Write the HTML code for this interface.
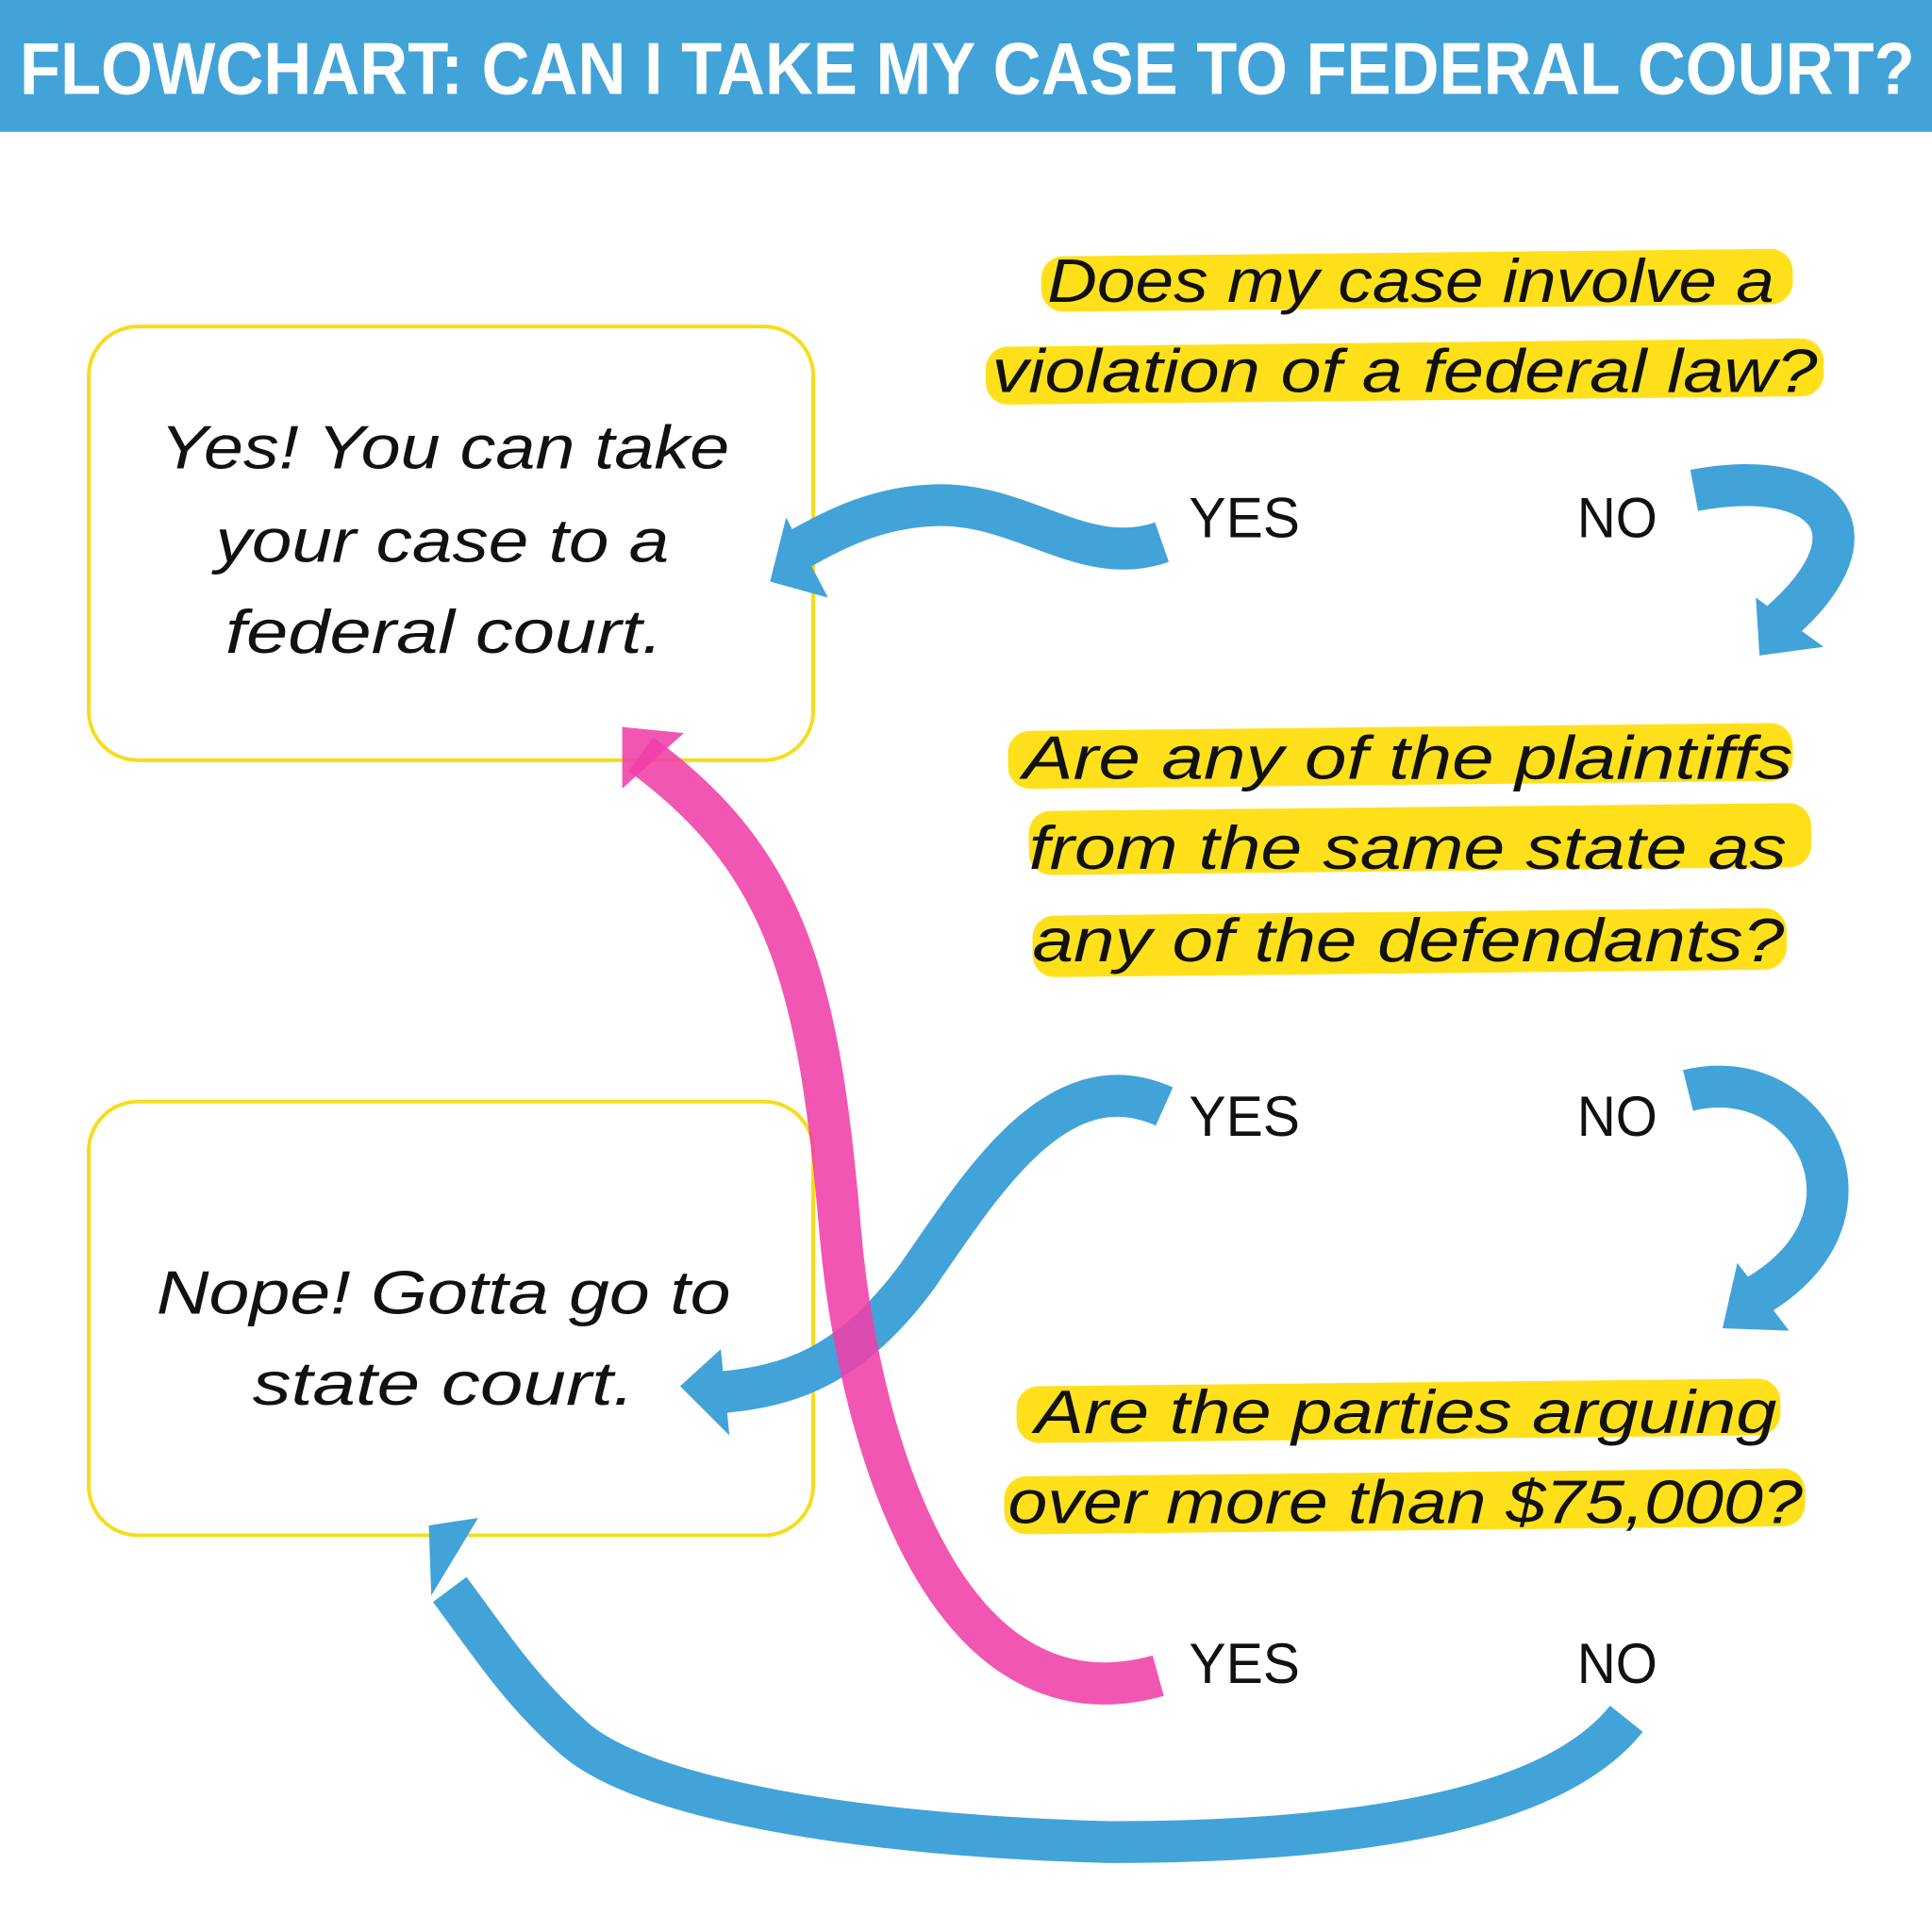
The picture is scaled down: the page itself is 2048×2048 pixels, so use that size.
<!DOCTYPE html>
<html><head><meta charset="utf-8"><style>
html,body{margin:0;padding:0;background:#fff;}
svg{display:block;}
.h{font-family:"Liberation Sans",sans-serif;font-weight:bold;fill:#fff;}
.t{font-family:"Liberation Sans",sans-serif;font-style:italic;fill:#111;}
</style></head><body>
<svg width="2048" height="2048" viewBox="0 0 1568 1568" xmlns="http://www.w3.org/2000/svg">
<rect x="0" y="0" width="1568" height="107" fill="#42a3d9"/>
<text class="h" x="16" y="76" font-size="60" textLength="1538" lengthAdjust="spacingAndGlyphs">FLOWCHART: CAN I TAKE MY CASE TO FEDERAL COURT?</text>

<rect x="72" y="265" width="588" height="352" rx="40" fill="none" stroke="#f7dc1a" stroke-width="3"/>
<rect x="72" y="894" width="588" height="352" rx="40" fill="none" stroke="#f7dc1a" stroke-width="3"/>

<g fill="#ffe01b">
<rect x="845" y="205" width="610" height="45" rx="18" transform="rotate(-0.6 1150 228)"/>
<rect x="800" y="278" width="680" height="47" rx="18" transform="rotate(-0.6 1140 300)"/>
<rect x="818" y="590" width="637" height="47" rx="18" transform="rotate(-0.6 1136 612)"/>
<rect x="835" y="655" width="635" height="52" rx="18" transform="rotate(-0.6 1150 682)"/>
<rect x="838" y="740" width="612" height="50" rx="18" transform="rotate(-0.6 1144 765)"/>
<rect x="825" y="1122" width="620" height="46" rx="18" transform="rotate(-0.6 1135 1145)"/>
<rect x="815" y="1195" width="650" height="47" rx="18" transform="rotate(-0.6 1140 1218)"/>
</g>

<g class="t" font-size="50">
<text x="850" y="245" textLength="590" lengthAdjust="spacingAndGlyphs">Does my case involve a</text>
<text x="805" y="318" textLength="670" lengthAdjust="spacingAndGlyphs">violation of a federal law?</text>
<text x="830" y="632" textLength="625" lengthAdjust="spacingAndGlyphs">Are any of the plaintiffs</text>
<text x="835" y="705" textLength="615" lengthAdjust="spacingAndGlyphs">from the same state as</text>
<text x="838" y="780" textLength="610" lengthAdjust="spacingAndGlyphs">any of the defendants?</text>
<text x="840" y="1163" textLength="602" lengthAdjust="spacingAndGlyphs">Are the parties arguing</text>
<text x="818" y="1236" textLength="645" lengthAdjust="spacingAndGlyphs">over more than $75,000?</text>

<text x="130" y="380" textLength="462" lengthAdjust="spacingAndGlyphs">Yes! You can take</text>
<text x="175" y="456" textLength="368" lengthAdjust="spacingAndGlyphs">your case to a</text>
<text x="183" y="530" textLength="355" lengthAdjust="spacingAndGlyphs">federal court.</text>
<text x="127" y="1066" textLength="466" lengthAdjust="spacingAndGlyphs">Nope! Gotta go to</text>
<text x="205" y="1140" textLength="310" lengthAdjust="spacingAndGlyphs">state court.</text>
</g>
<g class="t" font-size="46" style="font-style:normal">
<text x="965" y="436" textLength="90" lengthAdjust="spacingAndGlyphs">YES</text>
<text x="1280" y="436" textLength="65" lengthAdjust="spacingAndGlyphs">NO</text>
<text x="965" y="922" textLength="90" lengthAdjust="spacingAndGlyphs">YES</text>
<text x="1280" y="922" textLength="65" lengthAdjust="spacingAndGlyphs">NO</text>
<text x="965" y="1366" textLength="90" lengthAdjust="spacingAndGlyphs">YES</text>
<text x="1280" y="1366" textLength="65" lengthAdjust="spacingAndGlyphs">NO</text>
</g>

<g fill="none" stroke="#42a3d9" stroke-width="34">
<path d="M943,440 C880,462 830,408 760,410 C715,411 680,428 650,445"/>
<path d="M1375,398 C1480,378 1530,430 1445,505"/>
<path d="M945,898 C860,860 800,955 745,1035 C690,1110 640,1125 585,1130"/>
<path d="M1370,885 C1470,860 1540,990 1420,1055"/>
<path d="M1320,1395 C1260,1470 1100,1495 900,1495 C700,1490 520,1460 465,1410 C420,1370 395,1330 365,1290"/>
</g>
<g fill="#42a3d9">
<polygon points="625,472 638,420 672,485"/>
<polygon points="1428,532 1425,485 1480,525"/>
<polygon points="552,1125 585,1095 592,1165"/>
<polygon points="1398,1078 1410,1025 1452,1080"/>
<polygon points="348,1238 388,1232 350,1295"/>
</g>
<path d="M940,1360 C760,1410 695,1150 682,1000 C665,800 640,700 520,612" fill="none" stroke="#f03fa8" stroke-width="34" stroke-opacity="0.88"/>
<polygon points="505,590 555,595 505,640" fill="#f03fa8" fill-opacity="0.88"/>
</svg>
</body></html>
